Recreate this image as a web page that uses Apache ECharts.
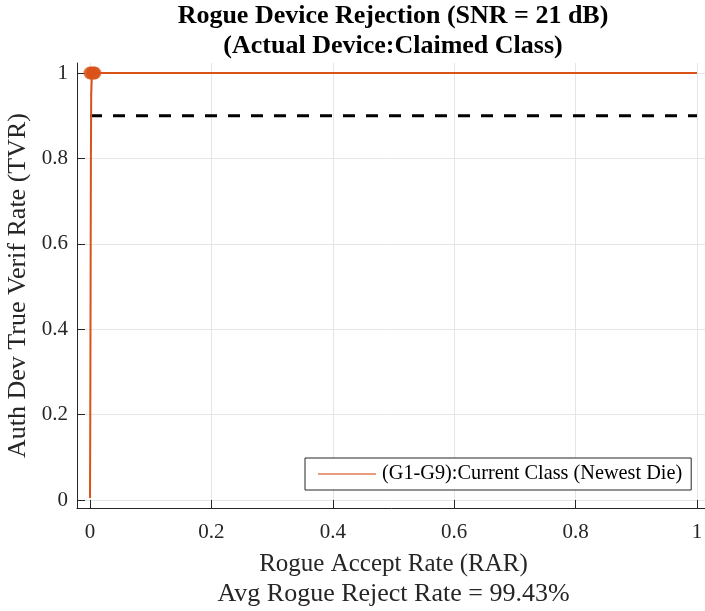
<!DOCTYPE html>
<html>
<head>
<meta charset="utf-8">
<script src="https://cdn.jsdelivr.net/npm/echarts@6/dist/echarts.min.js"></script>
<style>
html,body{margin:0;padding:0;background:#fff;}
#chart{width:705px;height:611px;}
</style>
</head>
<body>
<div id="chart"></div>
<script>
// ROC curve: rogue accept rate vs authorized device true verification rate
const rocRAR = [0, 0.0005, 0.001, 0.0015, 0.002, 0.003, 0.005, 1];
const rocTVR = [0.005, 0.2, 0.5, 0.8, 0.95, 0.99, 1, 1];
// operating-point markers clustered at the top-left
const markRAR = [0, 0.003, 0.006, 0.008];
const markTVR = [1, 1, 1, 1];
// target verification rate reference
const refRAR = [0, 1];
const refTVR = [0.9, 0.9];
const tickVals = [0, 0.2, 0.4, 0.6, 0.8, 1];
const tickLabels = ['0', '0.2', '0.4', '0.6', '0.8', '1'];
const legendName = '(G1-G9):Current Class (Newest Die)';
const avgReject = 99.43;

const font = 'Liberation Serif';
const zip = (a, b) => a.map((v, i) => [v, b[i]]);
const labelFmt = v => {
  const i = tickVals.findIndex(t => Math.abs(t - v) < 1e-9);
  return i >= 0 ? tickLabels[i] : '';
};

const chart = echarts.init(document.getElementById('chart'), null, {renderer: 'canvas'});
chart.setOption({
  backgroundColor: '#fff',
  animation: false,
  title: {
    text: 'Rogue Device Rejection (SNR = 21 dB)\n(Actual Device:Claimed Class)',
    left: 393, top: 1, padding: 0, textAlign: 'center',
    textStyle: {fontFamily: font, fontWeight: 'bold', fontSize: 26, lineHeight: 30, color: '#000'}
  },
  grid: {left: 77, top: 63, right: -5, bottom: 103, containLabel: false, outerBoundsMode: 'none'},
  legend: {
    data: [{name: legendName, icon: 'rect'}],
    left: 305, top: 458,
    padding: [6, 9, 6, 13],
    itemWidth: 58, itemHeight: 1.3, itemGap: 6,
    itemStyle: {color: '#E07A50'},
    borderColor: '#262626', borderWidth: 1, borderRadius: 0,
    backgroundColor: '#fff',
    textStyle: {fontFamily: font, fontSize: 20.3, color: '#000', padding: [0, 0, 0, 1]}
  },
  xAxis: {
    type: 'value', min: -0.0214, max: 1.0214,
    name: '{a|Rogue Accept Rate (RAR)}\n{b|Avg Rogue Reject Rate = ' + avgReject.toFixed(2) + '%}',
    nameLocation: 'middle', nameGap: 41,
    nameTextStyle: {
      fontFamily: font, color: '#262626',
      rich: {
        a: {fontFamily: font, fontSize: 25, lineHeight: 30, color: '#262626'},
        b: {fontFamily: font, fontSize: 26, lineHeight: 30, color: '#262626'}
      }
    },
    axisLine: {show: true, onZero: false, lineStyle: {color: '#262626', width: 1}},
    axisTick: {show: true, inside: true, length: 8, customValues: tickVals, lineStyle: {color: '#262626'}},
    axisLabel: {customValues: tickVals, formatter: labelFmt, margin: 14, fontFamily: font, fontSize: 21, color: '#262626'},
    splitLine: {show: true, lineStyle: {color: '#e5e5e5', width: 1}}
  },
  yAxis: {
    type: 'value', min: -0.0187, max: 1.0234,
    name: 'Auth Dev True Verif Rate (TVR)',
    nameLocation: 'middle', nameGap: 42,
    nameTextStyle: {fontFamily: font, fontSize: 26, color: '#262626'},
    axisLine: {show: true, onZero: false, lineStyle: {color: '#262626', width: 1}},
    axisTick: {show: true, inside: true, length: 8, customValues: tickVals, lineStyle: {color: '#262626'}},
    axisLabel: {customValues: tickVals, formatter: labelFmt, margin: 9, fontFamily: font, fontSize: 21, color: '#262626'},
    splitLine: {show: true, lineStyle: {color: '#e5e5e5', width: 1}}
  },
  series: [
    {
      name: 'ref',
      type: 'line', data: zip(refRAR, refTVR),
      symbol: 'none', silent: true,
      lineStyle: {color: '#000', width: 3, type: [12, 11]},
      z: 3
    },
    {
      name: legendName,
      type: 'line', data: zip(rocRAR, rocTVR),
      symbol: 'none',
      itemStyle: {color: '#D95319'},
      lineStyle: {color: '#D95319', width: 2},
      z: 4
    },
    {
      name: 'points',
      type: 'scatter', data: zip(markRAR, markTVR),
      symbol: 'circle', symbolSize: 13,
      itemStyle: {color: '#D95319'},
      z: 5
    }
  ]
});
</script>
</body>
</html>
